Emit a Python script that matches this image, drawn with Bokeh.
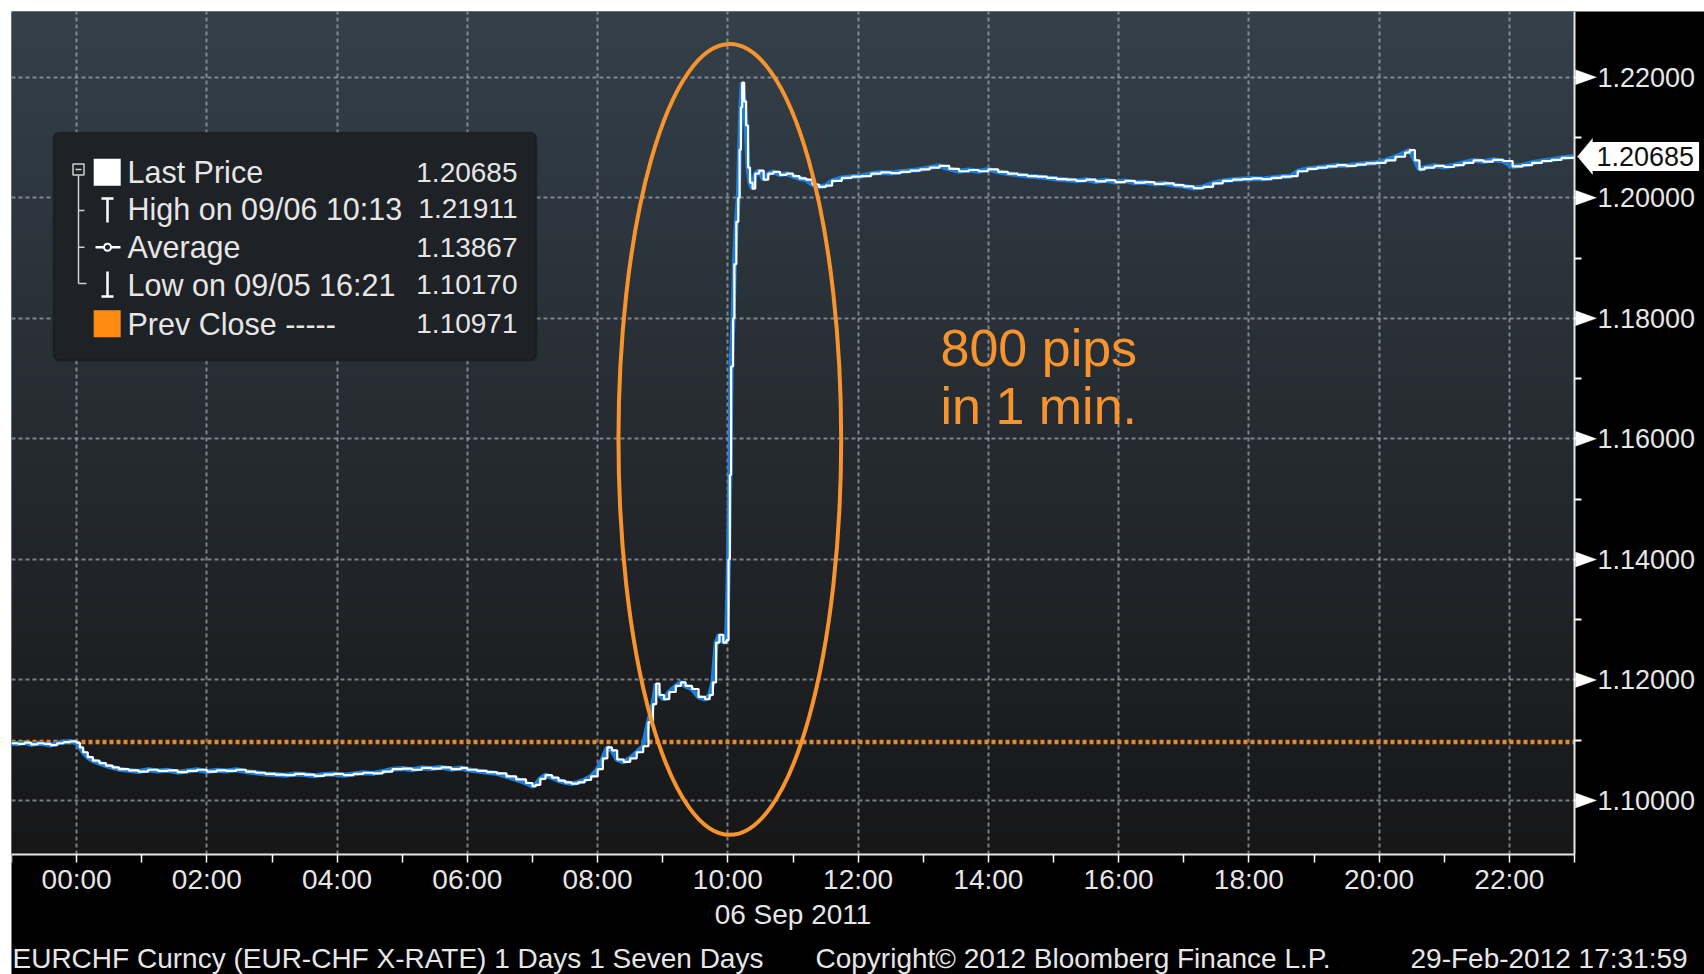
import numpy as np
from bokeh.plotting import figure
from bokeh.models import (Range1d, FixedTicker, Label, PolyAnnotation,
                          BoxAnnotation, PrintfTickFormatter)
from bokeh.core.properties import value
from bokeh.embed import file_html
from bokeh.resources import INLINE

# ---------------- data ----------------
hours = [-1.00, -0.90, -0.80, -0.70, -0.60, -0.50, -0.40, -0.30, -0.20, -0.10,
         0.00, 0.05, 0.10, 0.17, 0.25, 0.35, 0.45, 0.55, 0.65, 0.80, 0.95,
         1.10, 1.25, 1.40, 1.55, 1.70, 1.85, 2.00, 2.15, 2.30, 2.45, 2.60,
         2.75, 2.90, 3.05, 3.20, 3.35, 3.50, 3.65, 3.80, 3.95, 4.10, 4.25,
         4.40, 4.55, 4.70, 4.85, 5.00, 5.15, 5.30, 5.45, 5.60, 5.75, 5.90,
         6.00, 6.15, 6.30, 6.45, 6.60, 6.75, 6.90, 7.00, 7.05, 7.12, 7.20,
         7.30, 7.40, 7.50, 7.60, 7.70, 7.80, 7.90, 8.00, 8.08, 8.15, 8.22,
         8.30, 8.40, 8.50, 8.60, 8.70, 8.78, 8.85, 8.90, 8.95, 9.02, 9.10,
         9.20, 9.28, 9.35, 9.45, 9.55, 9.65, 9.72, 9.77, 9.82, 9.87, 9.93,
         9.98, 10.01, 10.03, 10.05, 10.08, 10.10, 10.13, 10.16, 10.18, 10.20,
         10.22, 10.25, 10.28, 10.31, 10.34, 10.38, 10.42, 10.48, 10.55, 10.62,
         10.70, 10.80, 10.90, 11.00, 11.10, 11.20, 11.30, 11.40, 11.50, 11.60,
         11.75, 11.90, 12.05, 12.20, 12.35, 12.50, 12.65, 12.80, 12.95, 13.10,
         13.25, 13.40, 13.55, 13.70, 13.85, 14.00, 14.15, 14.30, 14.45, 14.60,
         14.75, 14.90, 15.05, 15.20, 15.35, 15.50, 15.65, 15.80, 15.95, 16.10,
         16.25, 16.40, 16.55, 16.70, 16.85, 17.00, 17.15, 17.30, 17.45, 17.60,
         17.75, 17.90, 18.05, 18.20, 18.35, 18.50, 18.65, 18.75, 18.90, 19.05,
         19.20, 19.35, 19.50, 19.65, 19.80, 19.95, 20.10, 20.25, 20.40, 20.47,
         20.55, 20.62, 20.70, 20.85, 21.00, 21.15, 21.30, 21.45, 21.60, 21.75,
         21.90, 22.05, 22.20, 22.35, 22.50, 22.65, 22.80, 22.98]
prices = [1.1095, 1.1094, 1.1096, 1.1093, 1.1095, 1.1094, 1.1092, 1.1095, 1.1097, 1.1098,
          1.1096, 1.1088, 1.1080, 1.1072, 1.1066, 1.1062, 1.1058, 1.1055, 1.1052, 1.1050, 1.1048,
          1.1051, 1.1049, 1.1050, 1.1047, 1.1049, 1.1051, 1.1048, 1.1050, 1.1049, 1.1051, 1.1048,
          1.1046, 1.1044, 1.1043, 1.1042, 1.1044, 1.1043, 1.1041, 1.1043, 1.1044, 1.1042, 1.1044,
          1.1046, 1.1045, 1.1048, 1.1052, 1.1053, 1.1051, 1.1054, 1.1053, 1.1055, 1.1052, 1.1054,
          1.1051, 1.1049, 1.1047, 1.1045, 1.1040, 1.1035, 1.1029, 1.1024, 1.1026, 1.1036, 1.1042,
          1.1038, 1.1033, 1.1030, 1.1028, 1.1030, 1.1034, 1.1040, 1.1052, 1.1070, 1.1088, 1.1083,
          1.1068, 1.1064, 1.1070, 1.1080, 1.1090, 1.1130, 1.1160, 1.1194, 1.1175, 1.1168, 1.1180,
          1.1190, 1.1196, 1.1190, 1.1185, 1.1172, 1.1168, 1.1175, 1.1196, 1.1262, 1.1275, 1.1262,
          1.1266, 1.1400, 1.1540, 1.1720, 1.1800, 1.1890, 1.1960, 1.2000, 1.2080, 1.2150,
          1.2191, 1.2160, 1.2120, 1.2050, 1.2025, 1.2015, 1.2040, 1.2045, 1.2030, 1.2040,
          1.2043, 1.2038, 1.2040, 1.2036, 1.2032, 1.2030, 1.2022, 1.2018, 1.2020, 1.2028,
          1.2033, 1.2035, 1.2036, 1.2040, 1.2042, 1.2041, 1.2043, 1.2045, 1.2047, 1.2050,
          1.2053, 1.2048, 1.2044, 1.2046, 1.2044, 1.2047, 1.2043, 1.2040, 1.2038, 1.2036,
          1.2035, 1.2033, 1.2031, 1.2030, 1.2028, 1.2030, 1.2027, 1.2029, 1.2026, 1.2028,
          1.2025, 1.2026, 1.2023, 1.2024, 1.2021, 1.2019, 1.2016, 1.2018, 1.2024, 1.2028,
          1.2030, 1.2031, 1.2032, 1.2031, 1.2033, 1.2035, 1.2036, 1.2044, 1.2048, 1.2050,
          1.2052, 1.2054, 1.2053, 1.2055, 1.2057, 1.2058, 1.2062, 1.2068, 1.2075, 1.2079,
          1.2062, 1.2047, 1.2050, 1.2053, 1.2051, 1.2054, 1.2058, 1.2062, 1.2060, 1.2063,
          1.2061, 1.2052, 1.2054, 1.2058, 1.2061, 1.2063, 1.2066, 1.20685]

prev_close = 1.10971
last_price = 1.20685
last_price_text = "1.20685"

x_ticks = [0, 2, 4, 6, 8, 10, 12, 14, 16, 18, 20, 22]
x_minor = [-1, 1, 3, 5, 7, 9, 11, 13, 15, 17, 19, 21, 23]
x_labels = ["00:00", "02:00", "04:00", "06:00", "08:00", "10:00",
            "12:00", "14:00", "16:00", "18:00", "20:00", "22:00"]
y_ticks = [1.10, 1.12, 1.14, 1.16, 1.18, 1.20, 1.22]
y_minor = [1.11, 1.13, 1.15, 1.17, 1.19, 1.21]
date_label = "06 Sep 2011"

legend_labels = ["Last Price", "High on 09/06 10:13", "Average",
                 "Low on 09/05 16:21", "Prev Close -----"]
legend_values = ["1.20685", "1.21911", "1.13867", "1.10170", "1.10971"]

footer_left = "EURCHF Curncy (EUR-CHF X-RATE) 1 Days 1 Seven Days"
footer_mid = "Copyright\u00a9 2012 Bloomberg Finance L.P."
footer_right = "29-Feb-2012 17:31:59"

note_lines = ["800 pips", "in 1 min."]
ellipse_x, ellipse_y, ellipse_w, ellipse_h = 10.03, 1.1599, 3.42, 0.1312

# ---------------- layout (page pixels -> data) ----------------
PX0, PX1 = -1.0, 23.0          # plotted time span (hours)
PY0, PY1 = 1.09104, 1.2309     # plotted price span
FL, FT = 11, 11                # frame origin on the page
FW, FH = 1693, 963             # frame covers the whole black area
PXH = 1563 / (PX1 - PX0)       # pixels per hour
PXU = 843 / (PY1 - PY0)        # pixels per price unit
XR = PX0 + FW / PXH
YB = PY1 - FH / PXU


def px2x(px):
    return PX0 + (px - FL) / PXH


def px2y(py):
    return PY1 - (py - FT) / PXU


def dy(n):
    return n / PXU


ORANGE = "#f7942d"
TXT = "#e6e6e6"
FONT = "Liberation Sans"

p = figure(frame_width=FW, frame_height=FH, x_range=Range1d(PX0, XR),
           y_range=Range1d(YB, PY1), y_axis_location="right",
           output_backend="svg", toolbar_location=None,
           min_border_left=FL, min_border_top=FT, min_border_right=0,
           min_border_bottom=0, background_fill_color="black",
           border_fill_color="white")
p.outline_line_color = None

# gradient background of the plotting area
n = 256
t = np.linspace(0.0, 1.0, n)
bot = np.array([23, 23, 24], dtype=float)
top = np.array([52, 64, 74], dtype=float)
cols = bot[None, :] + (top - bot)[None, :] * t[:, None]
img = np.zeros((n, 1), dtype=np.uint32)
view = img.view(dtype=np.uint8).reshape((n, 1, 4))
view[:, 0, 0] = cols[:, 0]
view[:, 0, 1] = cols[:, 1]
view[:, 0, 2] = cols[:, 2]
view[:, 0, 3] = 255
p.image_rgba(image=[img], x=PX0, y=PY0, dw=PX1 - PX0, dh=PY1 - PY0, level="image")

# grid
p.xgrid.ticker = FixedTicker(ticks=x_ticks)
p.ygrid.ticker = FixedTicker(ticks=y_ticks)
p.xgrid.cross_bounds = (PY0, PY1)
p.ygrid.cross_bounds = (PX0, PX1)
for g in (p.xgrid, p.ygrid):
    g.grid_line_color = "#a2aab2"
    g.grid_line_dash = "4 3"
    g.grid_line_width = 2
    g.grid_line_alpha = 0.7

# previous close (dotted orange)
p.segment(x0=[PX0], y0=[prev_close], x1=[PX1], y1=[prev_close],
          line_color="#e3892e", line_width=4.5, line_dash="4 3")

# price line
p.line(hours, prices, line_color="#1f7fd8", line_width=5)
p.step(hours, prices, mode="after", line_color="white", line_width=2.2)

# annotation ellipse and note
p.ellipse(x=[ellipse_x], y=[ellipse_y], width=[ellipse_w], height=[ellipse_h],
          fill_color=None, line_color=ORANGE, line_width=4)
for i, s in enumerate(note_lines):
    p.add_layout(Label(x=px2x(940), y=px2y(347 + 58 * i), text=s,
                       text_font=FONT, text_font_size="52px", text_color=ORANGE,
                       text_baseline="alphabetic"))

# legend box
p.add_layout(BoxAnnotation(left=px2x(53), right=px2x(536), top=px2y(132),
                           bottom=px2y(360), fill_color="#1e2126", fill_alpha=1,
                           line_color="#0b0c0f", line_width=2, border_radius=6,
                           level="underlay"))
rows = [171.7, 208, 246.7, 284, 323.3]
ry = [px2y(r) for r in rows]
p.text(x=[px2x(127)] * 5, y=ry, text=legend_labels, text_font=value(FONT),
       text_font_size="30.5px", text_color=TXT, text_baseline="middle")
p.text(x=[px2x(517)] * 5, y=ry, text=legend_values, text_font=value(FONT),
       text_font_size="28px", text_color=TXT, text_baseline="middle",
       text_align="right")
# legend icons
p.scatter(x=[px2x(106.7), px2x(106.7)], y=[ry[0], ry[4]], marker="square",
          size=27, fill_color=["white", "#ff8a12"], line_color=None)
p.scatter(x=[px2x(78)], y=[px2y(169)], marker="square", size=11,
          fill_color=None, line_color="#cfcfcf", line_width=1.5)
LC = "#cfcfcf"
sx0 = [px2x(75), px2x(78), px2x(78), px2x(78), px2x(78),
       px2x(107), px2x(101), px2x(95), px2x(107), px2x(101)]
sy0 = [px2y(169), px2y(175), px2y(283), px2y(210), px2y(246.7),
       px2y(198), px2y(198), px2y(246.7), px2y(271), px2y(296)]
sx1 = [px2x(81), px2x(78), px2x(86), px2x(84), px2x(84),
       px2x(107), px2x(113), px2x(120), px2x(107), px2x(113)]
sy1 = [px2y(169), px2y(283), px2y(283), px2y(210), px2y(246.7),
       px2y(222), px2y(198), px2y(246.7), px2y(296), px2y(296)]
p.segment(x0=sx0[:5], y0=sy0[:5], x1=sx1[:5], y1=sy1[:5], line_color=LC,
          line_width=1.5)
p.segment(x0=sx0[5:], y0=sy0[5:], x1=sx1[5:], y1=sy1[5:], line_color="white",
          line_width=2.5)
p.scatter(x=[px2x(107)], y=[px2y(246.7)], marker="circle", size=7,
          fill_color="#1e2126", line_color="white", line_width=2)

# right axis, drawn at the right edge of the plotted span
ya = p.yaxis[0]
ya.fixed_location = PX1
ya.bounds = (PY0, PY1)
ya.ticker = FixedTicker(ticks=y_ticks, minor_ticks=y_minor)
ya.formatter = PrintfTickFormatter(format="%.5f")
ya.axis_line_color = "#e6e6e6"
ya.axis_line_width = 2
ya.major_tick_line_color = "white"
ya.major_tick_line_width = 2
ya.major_tick_in = 0
ya.major_tick_out = 16
ya.minor_tick_line_color = "white"
ya.minor_tick_line_width = 2
ya.minor_tick_in = 0
ya.minor_tick_out = 7
ya.major_label_standoff = 7
ya.major_label_text_font = FONT
ya.major_label_text_font_size = "27px"
ya.major_label_text_color = TXT

for tk in y_ticks:
    p.add_layout(PolyAnnotation(xs=[px2x(1575), px2x(1596), px2x(1575)],
                                ys=[tk + dy(7.5), tk, tk - dy(7.5)],
                                fill_color="white", fill_alpha=1,
                                line_color="white", line_width=1))

# last price tag
p.add_layout(PolyAnnotation(xs=[px2x(1577), px2x(1592), px2x(1592)],
                            ys=[last_price, last_price + dy(18), last_price - dy(18)],
                            fill_color="white", fill_alpha=1, line_color="white"))
p.add_layout(Label(x=px2x(1591), y=last_price, text=last_price_text,
                   text_font=FONT, text_font_size="27px", text_color="#111111",
                   text_baseline="middle", background_fill_color="white",
                   background_fill_alpha=1, padding=5))

# bottom axis, drawn at the bottom of the plotted span
xa = p.xaxis[0]
xa.fixed_location = PY0
xa.bounds = (PX0, PX1)
xa.ticker = FixedTicker(ticks=x_ticks, minor_ticks=x_minor)
xa.major_label_overrides = dict(zip(x_ticks, x_labels))
xa.axis_line_color = "#e6e6e6"
xa.axis_line_width = 2
xa.major_tick_line_color = "white"
xa.major_tick_line_width = 1.5
xa.major_tick_in = 0
xa.major_tick_out = 8
xa.minor_tick_line_color = "white"
xa.minor_tick_line_width = 1.5
xa.minor_tick_in = 0
xa.minor_tick_out = 8
xa.major_label_standoff = 1
xa.major_label_text_font = FONT
xa.major_label_text_font_size = "28px"
xa.major_label_text_color = TXT
xa.axis_label = date_label
xa.axis_label_text_font = FONT
xa.axis_label_text_font_size = "28px"
xa.axis_label_text_font_style = "normal"
xa.axis_label_text_color = TXT
xa.axis_label_standoff = 1

# footer
for s, xp in ((footer_left, 12), (footer_mid, 815), (footer_right, 1410)):
    p.add_layout(Label(x=px2x(xp), y=px2y(958), text=s, text_font=FONT,
                       text_font_size="28px", text_color=TXT,
                       text_baseline="middle"))

open("out.html", "w").write(file_html(p, INLINE))
